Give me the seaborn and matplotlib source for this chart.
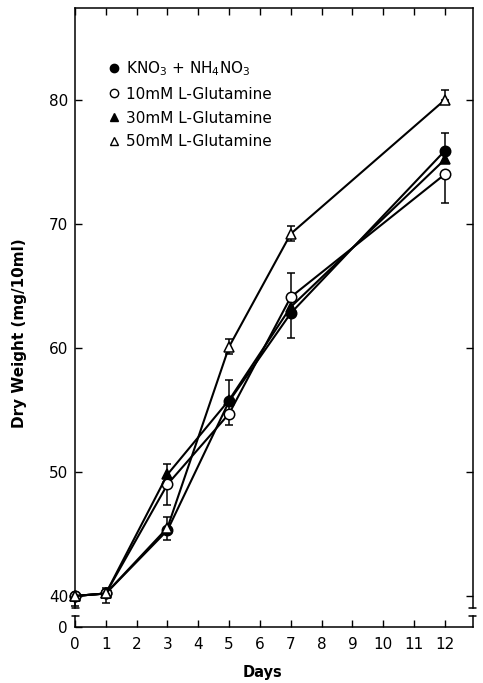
import numpy as np
import pandas as pd
import matplotlib
matplotlib.use('Agg')
import matplotlib.pyplot as plt
from matplotlib.lines import Line2D
import seaborn as sns

# values
days = [0, 1, 3, 5, 7, 12]
kno3 = [40.0, 40.2, 45.3, 55.7, 62.8, 75.9]
glu10 = [40.0, 40.2, 49.0, 54.7, 64.1, 74.0]
glu30 = [40.0, 40.2, 49.8, 55.8, 63.3, 75.2]
glu50 = [40.0, 40.2, 45.5, 60.1, 69.2, 80.0]

# error bars (below, above); 0 where the original shows none
kno3_lo = [0.8, 0.75, 0.8, 1.9, 2.0, 0.0]
kno3_hi = [0.0, 0.45, 1.1, 1.7, 0.0, 1.4]
glu10_lo = [0.0, 0.0, 1.7, 0.0, 0.0, 2.3]
glu10_hi = [0.0, 0.0, 1.6, 0.0, 1.9, 0.0]
glu30_lo = [0.0, 0.0, 0.0, 0.0, 0.0, 0.0]
glu30_hi = [0.0, 0.0, 0.0, 0.0, 0.0, 0.0]
glu50_lo = [0.0, 0.0, 0.0, 0.6, 0.6, 0.0]
glu50_hi = [0.0, 0.0, 0.0, 0.6, 0.6, 0.8]

labels = [r'KNO$_3$ + NH$_4$NO$_3$', '10mM L-Glutamine',
          '30mM L-Glutamine', '50mM L-Glutamine']

series = [
    (kno3, kno3_lo, kno3_hi, 'o', 'black'),
    (glu10, glu10_lo, glu10_hi, 'o', 'white'),
    (glu30, glu30_lo, glu30_hi, '^', 'black'),
    (glu50, glu50_lo, glu50_hi, '^', 'white'),
]

sns.set_style('ticks')
plt.rcParams['font.family'] = ['DejaVu Sans']
plt.rcParams['mathtext.fontset'] = 'dejavusans'
for k in ['text.color', 'axes.labelcolor', 'xtick.color', 'ytick.color', 'axes.edgecolor']:
    plt.rcParams[k] = 'black'

W, H = 483, 683
fig = plt.figure(figsize=(W / 100, H / 100), dpi=100)
left, right = 75, 473
ax = fig.add_axes([left / W, 1 - 608 / H, (right - left) / W, 600 / H])
ax0 = fig.add_axes([left / W, 1 - 627 / H, (right - left) / W, 11 / H], sharex=ax)

for vals, lo, hi, mk, face in series:
    df = pd.DataFrame({'day': days, 'weight': vals})
    d = np.array(days, dtype=float)
    v = np.array(vals)
    lo = np.array(lo)
    hi = np.array(hi)
    m = (lo + hi) > 0
    if m.any():
        ax.errorbar(d[m], v[m], yerr=[lo[m], hi[m]], fmt='none', ecolor='black',
                    elinewidth=1.1, capsize=2.6, capthick=1.1, zorder=2, clip_on=False)
    sns.lineplot(data=df, x='day', y='weight', ax=ax, color='black', lw=1.5,
                 marker=mk, markersize=7.5,
                 markerfacecolor=face, markeredgecolor='black', markeredgewidth=1.1,
                 errorbar=None, zorder=3, clip_on=False)

ax.set_xlim(0, 12.91)
ax.set_ylim(39.03, 87.4)
ax.set_yticks([40, 50, 60, 70, 80])
ax.set_xticks(range(0, 13))
ax.tick_params(direction='in', length=5, width=1.0, top=True, right=True,
               bottom=False, labelbottom=False, labelsize=11, pad=5)
ax.spines['bottom'].set_visible(False)
for s in ['left', 'right', 'top']:
    ax.spines[s].set_linewidth(1.1)
ax.set_xlabel('')
ax.set_ylabel('Dry Weight (mg/10ml)', fontsize=11, fontweight='bold')
ax.yaxis.set_label_coords(-0.12, 0.458)

ax0.set_ylim(0, 1)
ax0.set_yticks([0])
ax0.tick_params(direction='in', length=5, width=1.0, top=False, right=False,
                labelsize=11, pad=5)
ax0.tick_params(axis='x', pad=7)
ax0.spines['top'].set_visible(False)
for s in ['left', 'right', 'bottom']:
    ax0.spines[s].set_linewidth(1.1)
ax0.set_xticks(range(0, 13))
ax0.set_xticklabels([str(i) for i in range(0, 13)])
ax0.set_xlabel('Days', fontsize=10.5, fontweight='bold')
ax0.xaxis.set_label_coords(0.47, -3.5)
ax0.set_ylabel('')

# break caps at the spine ends
dx = 3.5 / (right - left)
for a, yy in [(ax, 0.0), (ax0, 1.0)]:
    for xx in (0.0, 1.0):
        a.plot([xx - dx, xx + dx], [yy, yy], transform=a.transAxes, color='black',
               lw=1.1, clip_on=False)

handles = [Line2D([], [], linestyle='none', marker=mk, markersize=6,
                  markerfacecolor=face, markeredgecolor='black', markeredgewidth=1.0)
           for _, _, _, mk, face in series]
ax.legend(handles, labels, loc='upper left', bbox_to_anchor=(0.07, 0.925),
          frameon=False, fontsize=11, handlelength=0.6, handletextpad=0.5,
          labelspacing=0.58, borderaxespad=0)

fig.savefig('out.png', dpi=100)
